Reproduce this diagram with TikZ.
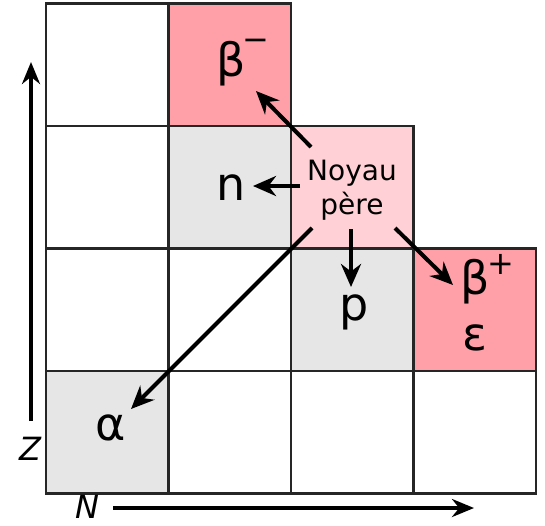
\documentclass[tikz,border=0pt]{standalone}
\usepackage{fontspec}
\setmainfont{DejaVu Sans}
\usetikzlibrary{arrows.meta}
\definecolor{pinkdark}{HTML}{FF9FA8}
\definecolor{pinklight}{HTML}{FFD1D6}
\definecolor{cellgray}{HTML}{E6E6E6}
\newcommand{\supr}[3]{\rlap{\hspace{#1}\raisebox{#2}{\fontsize{32}{32}\selectfont #3}}}
\begin{document}
\begin{tikzpicture}[x=1pt,y=-1pt,
  cell/.style={draw=black!85, line width=2.2pt, minimum size=122.5pt, inner sep=0pt, outer sep=0pt, anchor=north west},
  big/.style={font=\fontsize{46}{48}\selectfont, inner sep=0pt, anchor=base},
  ax/.style={font=\fontsize{32}{34}\selectfont\itshape, inner sep=0pt},
  arr/.style={line width=4pt, -{Stealth[length=23pt,width=20pt]}},
  axarr/.style={line width=4pt, -{Stealth[length=22pt,width=18pt]}}]
\useasboundingbox (0,0) rectangle (545,525);
% row 0
\node[cell, fill=white] (c00) at (46,3.5) {};
\node[cell, fill=pinkdark] (c01) at (168.5,3.5) {};
% row 1
\node[cell, fill=white] (c10) at (46,126) {};
\node[cell, fill=cellgray] (c11) at (168.5,126) {};
\node[cell, fill=pinklight] (c12) at (291,126) {};
% row 2
\node[cell, fill=white] (c20) at (46,248.5) {};
\node[cell, fill=white] (c21) at (168.5,248.5) {};
\node[cell, fill=cellgray] (c22) at (291,248.5) {};
\node[cell, fill=pinkdark] (c23) at (413.5,248.5) {};
% row 3
\node[cell, fill=cellgray] (c30) at (46,371) {};
\node[cell, fill=white] (c31) at (168.5,371) {};
\node[cell, fill=white] (c32) at (291,371) {};
\node[cell, fill=white] (c33) at (413.5,371) {};
% labels
\node[big] (bm) at (231.5,76) {β\supr{-4pt}{26pt}{−}};
\node[big] (n) at (231.5,200) {n};
\node[big] (p) at (354,320) {p};
\node[big] (bp) at (475,294) {β\supr{-2.5pt}{19.5pt}{+}};
\node[big] (eps) at (475,350) {ε};
\node[big] (alpha) at (111,440) {α};
\node[font=\fontsize{28}{34}\selectfont, align=center, inner sep=0pt] (noyau) at (352,190) {Noyau\\père};
% arrow end points
\coordinate (sbm) at (311,147);
\coordinate (ebm) at (256,91);
\coordinate (sn) at (300,186);
\coordinate (en) at (253,186);
\coordinate (sp) at (351,229);
\coordinate (ep) at (351,287);
\coordinate (sbp) at (395,228);
\coordinate (ebp) at (453,285);
\coordinate (sa) at (312,228);
\coordinate (ea) at (131,409);
\draw[arr] (sbm) -- (ebm);
\draw[arr] (sn) -- (en);
\draw[arr] (sp) -- (ep);
\draw[arr] (sbp) -- (ebp);
\draw[arr] (sa) -- (ea);
% axes
\coordinate (z0) at (31,421);
\coordinate (z1) at (31,62);
\coordinate (n0) at (113,508);
\coordinate (n1) at (474,508);
\draw[axarr] (z0) -- (z1);
\draw[axarr] (n0) -- (n1);
\node[ax] (zl) at (30,449) {Z};
\node[ax] (nl) at (87,507) {N};
\end{tikzpicture}
\end{document}
